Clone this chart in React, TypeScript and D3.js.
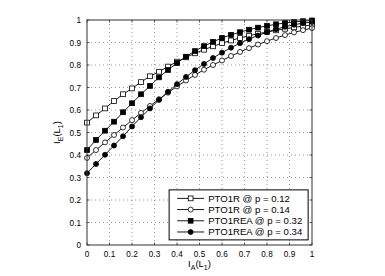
import { useEffect, useRef } from 'react';
import * as d3 from 'd3';

// x positions of the markers (0..1, step 0.04)
const xs: number[] = [0, 0.04, 0.08, 0.12, 0.16, 0.2, 0.24, 0.28, 0.32, 0.36, 0.4, 0.44, 0.48,
  0.52, 0.56, 0.6, 0.64, 0.68, 0.72, 0.76, 0.8, 0.84, 0.88, 0.92, 0.96, 1];

const pto1r12: number[] = [0.544, 0.576, 0.607, 0.640, 0.670, 0.696, 0.724, 0.750, 0.770, 0.793, 0.815,
  0.834, 0.852, 0.868, 0.883, 0.897, 0.909, 0.920, 0.930, 0.939, 0.947, 0.954, 0.961, 0.967, 0.973, 0.978];
const pto1r14: number[] = [0.387, 0.422, 0.456, 0.489, 0.522, 0.555, 0.587, 0.618, 0.648, 0.677, 0.705,
  0.731, 0.756, 0.779, 0.800, 0.820, 0.840, 0.858, 0.875, 0.891, 0.906, 0.920, 0.933, 0.945, 0.955, 0.964];
const pto1rea32: number[] = [0.422, 0.467, 0.508, 0.548, 0.590, 0.630, 0.670, 0.707, 0.745, 0.778, 0.809,
  0.837, 0.862, 0.884, 0.903, 0.920, 0.934, 0.946, 0.957, 0.966, 0.974, 0.981, 0.987, 0.991, 0.995, 0.998];
const pto1rea34: number[] = [0.319, 0.360, 0.401, 0.442, 0.483, 0.527, 0.568, 0.607, 0.645, 0.681, 0.715,
  0.747, 0.777, 0.805, 0.831, 0.855, 0.877, 0.897, 0.915, 0.931, 0.946, 0.959, 0.970, 0.979, 0.986, 0.991];

const seriesNames: string[] = ['PTO1R @ p = 0.12', 'PTO1R @ p = 0.14', 'PTO1REA @ p = 0.32', 'PTO1REA @ p = 0.34'];
const markerTypes: string[] = ['square-open', 'circle-open', 'square', 'circle'];
const tickValues: number[] = [0, 0.1, 0.2, 0.3, 0.4, 0.5, 0.6, 0.7, 0.8, 0.9, 1];

const FONT = '"Liberation Sans", Arial, sans-serif';

const drawMarker = (g: any, type: string, cx: number, cy: number) => {
  const filled = !type.endsWith('open');
  if (type.startsWith('square')) {
    g.append('rect').attr('x', cx - 2.4).attr('y', cy - 2.4).attr('width', 4.8).attr('height', 4.8)
      .attr('fill', filled ? '#000' : '#fff').attr('stroke', '#000').attr('stroke-width', 0.8);
  } else {
    g.append('circle').attr('cx', cx).attr('cy', cy).attr('r', 2.5)
      .attr('fill', filled ? '#000' : '#fff').attr('stroke', '#000').attr('stroke-width', 0.8);
  }
};

const App = () => {
  const ref = useRef<SVGSVGElement>(null);

  useEffect(() => {
    if (!ref.current) return;
    const svg = d3.select(ref.current);
    svg.selectAll('*').remove();

    const margin = { left: 87, top: 20 };
    const w = 225, h = 225;
    const x = d3.scaleLinear().domain([0, 1]).range([0, w]);
    const y = d3.scaleLinear().domain([0, 1]).range([h, 0]);

    const g = svg.append('g').attr('transform', `translate(${margin.left},${margin.top})`);

    // dotted grid
    const grid = g.append('g');
    tickValues.slice(1, -1).forEach(t => {
      grid.append('line').attr('x1', x(t)).attr('x2', x(t)).attr('y1', 0).attr('y2', h)
        .attr('stroke', '#555').attr('stroke-width', 0.6).attr('stroke-dasharray', '1,3');
      grid.append('line').attr('y1', y(t)).attr('y2', y(t)).attr('x1', 0).attr('x2', w)
        .attr('stroke', '#555').attr('stroke-width', 0.6).attr('stroke-dasharray', '1,3');
    });

    // ticks inside, all four sides
    const ticks = g.append('g').attr('stroke', '#333').attr('stroke-width', 0.8);
    tickValues.forEach(t => {
      ticks.append('line').attr('x1', x(t)).attr('x2', x(t)).attr('y1', h).attr('y2', h - 2.5);
      ticks.append('line').attr('x1', x(t)).attr('x2', x(t)).attr('y1', 0).attr('y2', 2.5);
      ticks.append('line').attr('y1', y(t)).attr('y2', y(t)).attr('x1', 0).attr('x2', 2.5);
      ticks.append('line').attr('y1', y(t)).attr('y2', y(t)).attr('x1', w).attr('x2', w - 2.5);
    });

    // tick labels
    tickValues.forEach(t => {
      g.append('text').attr('x', x(t)).attr('y', h + 11.5).attr('text-anchor', 'middle')
        .attr('font-family', FONT).attr('font-size', 8.2).attr('fill', '#000')
        .text(d3.format('~g')(t));
      g.append('text').attr('x', -6).attr('y', y(t) + 3).attr('text-anchor', 'end')
        .attr('font-family', FONT).attr('font-size', 8.2).attr('fill', '#000')
        .text(d3.format('~g')(t));
    });

    // curves
    const allSeries = [pto1r12, pto1r14, pto1rea32, pto1rea34];
    const line = d3.line<number>().x((_, i) => x(xs[i])).y(d => y(d));
    allSeries.forEach((vals, si) => {
      g.append('path').datum(vals).attr('d', line).attr('fill', 'none')
        .attr('stroke', '#000').attr('stroke-width', 0.9);
      const mg = g.append('g');
      vals.forEach((v, i) => drawMarker(mg, markerTypes[si], x(xs[i]), y(v)));
    });

    // box
    g.append('rect').attr('x', 0).attr('y', 0).attr('width', w).attr('height', h)
      .attr('fill', 'none').attr('stroke', '#333').attr('stroke-width', 1);

    // legend
    const lg = g.append('g').attr('transform', `translate(${x(0.365)},${y(0.245)})`);
    lg.append('rect').attr('x', 0).attr('y', 0).attr('width', 139).attr('height', 50)
      .attr('fill', '#fff').attr('stroke', '#000').attr('stroke-width', 1);
    seriesNames.forEach((name, i) => {
      const ly = 8.5 + i * 11.2;
      lg.append('line').attr('x1', 8).attr('x2', 35).attr('y1', ly).attr('y2', ly)
        .attr('stroke', '#000').attr('stroke-width', 0.9);
      drawMarker(lg, markerTypes[i], 21.5, ly);
      lg.append('text').attr('x', 39).attr('y', ly + 3.5).attr('font-family', FONT)
        .attr('font-size', 9.6).attr('fill', '#000').text(name);
    });

    // axis labels
    const xl = svg.append('text').attr('x', margin.left + w / 2).attr('y', 267)
      .attr('text-anchor', 'middle').attr('font-family', FONT).attr('font-size', 9.5).attr('fill', '#000');
    xl.append('tspan').text('I');
    xl.append('tspan').attr('font-size', 7).attr('dy', 3).text('A');
    xl.append('tspan').attr('dy', -3).text('(L');
    xl.append('tspan').attr('font-size', 7).attr('dy', 3).text('1');
    xl.append('tspan').attr('dy', -3).text(')');

    const yl = svg.append('text').attr('transform', `translate(60,${margin.top + h / 2}) rotate(-90)`)
      .attr('text-anchor', 'middle').attr('font-family', FONT).attr('font-size', 9.5).attr('fill', '#000');
    yl.append('tspan').text('I');
    yl.append('tspan').attr('font-size', 7).attr('dy', 3).text('E');
    yl.append('tspan').attr('dy', -3).text('(L');
    yl.append('tspan').attr('font-size', 7).attr('dy', 3).text('1');
    yl.append('tspan').attr('dy', -3).text(')');
  }, []);

  return (
    <svg ref={ref} width={385} height={276}
      style={{ position: 'absolute', left: 0, top: 0, background: '#fff' }} />
  );
};

export default App;
